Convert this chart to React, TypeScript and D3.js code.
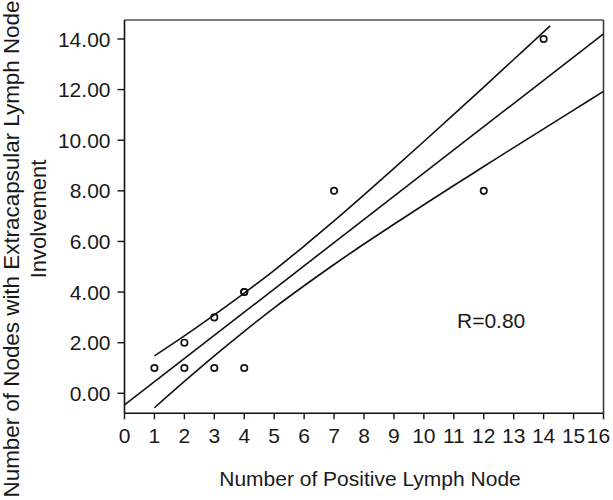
import React from "react";
import * as d3 from "d3";

const pointsX = [1, 2, 2, 3, 3, 4, 4, 4, 7, 12, 14];
const pointsY = [1, 2, 1, 3, 1, 4, 4, 1, 8, 8, 14];

const fitX = [0, 16];
const fitY = [-0.46, 14.2];

const upperX = [1, 2, 3, 4, 5, 6, 7, 8, 9, 10, 11, 12, 13, 14, 14.22];
const upperY = [1.48, 2.27, 3.1, 3.96, 4.86, 5.82, 6.81, 7.84, 8.89, 9.95, 11.02, 12.1, 13.19, 14.28, 14.52];

const lowerX = [1, 2, 3, 4, 5, 6, 7, 8, 9, 10, 11, 12, 13, 14, 15, 16];
const lowerY = [-0.57, 0.47, 1.48, 2.45, 3.38, 4.25, 5.09, 5.9, 6.68, 7.45, 8.21, 8.96, 9.71, 10.45, 11.19, 11.93];

const xTicks = d3.range(0, 17);
const yTicks = [0, 2, 4, 6, 8, 10, 12, 14];

const xTitle = "Number of Positive Lymph Node";
const yTitle1 = "Number of Nodes with Extracapsular Lymph Node";
const yTitle2 = "Involvement";
const annotation = "R=0.80";

export default function App() {
  const W = 613, H = 500;
  const left = 124.5, right = 603.5, top = 20, bottom = 413.3;
  const x = d3.scaleLinear().domain([0, 16]).range([left, right]);
  const y = d3.scaleLinear().domain([-0.79, 14.75]).range([bottom, top]);
  const font = "'Liberation Sans', Arial, Helvetica, sans-serif";
  const line = d3.line<[number, number]>().x(d => x(d[0])).y(d => y(d[1]));
  const smooth = d3.line<[number, number]>().x(d => x(d[0])).y(d => y(d[1])).curve(d3.curveMonotoneX);
  const fitPts = fitX.map((v, i) => [v, fitY[i]] as [number, number]);
  const upPts = upperX.map((v, i) => [v, upperY[i]] as [number, number]);
  const loPts = lowerX.map((v, i) => [v, lowerY[i]] as [number, number]);
  const textColor = "#1a1a1a";
  const lastTick = xTicks[xTicks.length - 1];

  return (
    <svg width={W} height={H} style={{ position: "absolute", left: 0, top: 0 }} fontFamily={font}>
      <rect x={0} y={0} width={W} height={H} fill="white" />
      {/* frame */}
      <line x1={left} x2={right} y1={top} y2={top} stroke="#555" strokeWidth={1.3} />
      <line x1={right} x2={right} y1={top} y2={bottom} stroke="#333" strokeWidth={1.5} />
      <line x1={left} x2={left} y1={top} y2={bottom} stroke="#111" strokeWidth={1.6} />
      <line x1={left} x2={right} y1={bottom} y2={bottom} stroke="#111" strokeWidth={1.6} />
      {/* y ticks */}
      {yTicks.map(t => (
        <g key={"y" + t}>
          <line x1={left - 7} x2={left} y1={y(t)} y2={y(t)} stroke="#111" strokeWidth={1.4} />
          <text x={left - 14} y={y(t)} dy="0.36em" textAnchor="end" fontSize={21} fill={textColor}>
            {d3.format(".2f")(t)}
          </text>
        </g>
      ))}
      {/* x ticks */}
      {xTicks.map(t => (
        <g key={"x" + t}>
          <line x1={x(t)} x2={x(t)} y1={bottom} y2={bottom + 6} stroke="#111" strokeWidth={1.4} />
          <text x={x(t)} dx={t === lastTick ? -5 : 0} y={443} textAnchor="middle" fontSize={21} fill={textColor}>
            {t}
          </text>
        </g>
      ))}
      {/* lines */}
      <path d={line(fitPts) || ""} fill="none" stroke="#111" strokeWidth={1.6} />
      <path d={smooth(upPts) || ""} fill="none" stroke="#111" strokeWidth={1.6} />
      <path d={smooth(loPts) || ""} fill="none" stroke="#111" strokeWidth={1.6} />
      {/* points */}
      {pointsX.map((v, i) => (
        <circle key={"p" + i} cx={x(v)} cy={y(pointsY[i])} r={3.2} fill="none" stroke="#111" strokeWidth={1.7} />
      ))}
      {/* annotation */}
      <text x={457} y={328} fontSize={21} fill={textColor}>{annotation}</text>
      {/* titles */}
      <text x={(left + right) / 2 + 6} y={486} textAnchor="middle" fontSize={21} fill={textColor}>{xTitle}</text>
      <text transform={`translate(19,249) rotate(-90)`} textAnchor="middle" fontSize={22.4} fill={textColor}>{yTitle1}</text>
      <text transform={`translate(45.5,219) rotate(-90)`} textAnchor="middle" fontSize={22} fill={textColor}>{yTitle2}</text>
    </svg>
  );
}
